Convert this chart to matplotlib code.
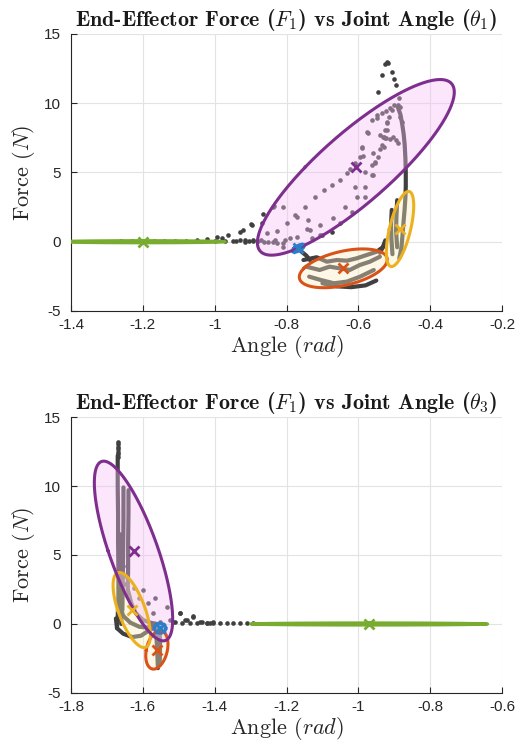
import numpy as np
import matplotlib
matplotlib.use("Agg")
import matplotlib.pyplot as plt

plt.rcParams['mathtext.fontset'] = 'cm'
plt.rcParams['axes.unicode_minus'] = False
plt.rcParams['font.family'] = ['Liberation Sans', 'DejaVu Sans']

# ---------------- data ----------------
comp_colors = ['#77AC30', '#2a7fc8', '#D95319', '#EDB120', '#7E2F8E']
fill_colors = ['#8cc850', '#3d8ad0', '#fbeac4', '#fbeebb', '#f5bef5']
fill_alpha = [0.6, 0.75, 0.38, 0.38, 0.38]

# top panel (theta_1)
top_means = [(-1.20, 0.0), (-0.767, -0.47), (-0.642, -1.92), (-0.484, 0.92), (-0.607, 5.37)]
top_covs = [
    [[0.0132, 0.0], [0.0, 0.0016]],
    [[7e-5, 0.0008], [0.0008, 0.021]],
    [[0.00375, 0.0191], [0.0191, 0.491]],
    [[0.000364, 0.016], [0.016, 1.841]],
    [[0.01878, 0.372], [0.372, 10.05]],
]
top_sparse_x = [-0.521, -0.517, -0.525, -0.534, -0.507, -0.502, -0.496, -0.546, -0.488, -0.483,
                -0.502, -0.511, -0.522, -0.534, -0.548, -0.563, -0.549, -0.572, -0.577, -0.590, -0.586, -0.591, -0.595,
                -0.516, -0.520, -0.525, -0.530, -0.534, -0.541, -0.546, -0.553, -0.563, -0.558, -0.554, -0.563, -0.558,
                -0.532, -0.522, -0.513, -0.504, -0.495, -0.491, -0.540, -0.526, -0.521, -0.521, -0.507, -0.489, -0.484, -0.479, -0.530,
                -0.609, -0.623, -0.632, -0.651, -0.674, -0.697, -0.721, -0.748, -0.776, -0.772, -0.809, -0.837, -0.865, -0.836,
                -0.609, -0.605, -0.581, -0.581, -0.637, -0.670, -0.707, -0.735, -0.772, -0.804, -0.827, -0.799, -0.739, -0.707,
                -0.674, -0.651, -0.618, -0.855, -0.864, -0.837, -0.809, -0.869, -0.892, -0.916, -0.929, -0.897, -0.920, -0.827,
                -0.744, -0.851, -0.832, -0.809, -0.790, -0.581, -0.730, -0.700,
                -1.050, -1.022, -0.994, -0.980, -0.962, -0.948, -0.930, -0.916, -0.900, -0.893, -0.880, -0.870, -0.905,
                -0.940, -0.970, -1.000, -1.080, -1.110, -1.140, -1.170, -1.230, -1.260]
top_sparse_y = [13.0, 12.9, 12.85, 12.04, 12.28, 11.73, 11.32, 10.79, 10.36, 9.75,
                9.87, 9.64, 9.46, 9.27, 9.15, 8.79, 8.91, 7.87, 7.95, 6.79, 6.19, 6.86, 6.14,
                9.03, 8.55, 8.07, 7.54, 6.99, 6.68, 6.10, 5.66, 4.82, 6.38, 5.78, 5.54, 4.82,
                7.54, 7.47, 7.40, 7.54, 7.35, 7.11, 7.71, 7.47, 8.07, 8.67, 9.51, 9.87, 9.03, 8.67, 6.86,
                5.71, 5.23, 4.94, 4.46, 4.10, 3.74, 3.26, 2.53, 1.93, 1.81, 2.53, 2.53, 2.00, 2.60,
                3.98, 3.26, 3.98, 3.26, 2.53, 1.69, 1.21, 0.85, 0.37, 0.13, -0.11, 1.33, 1.57, 0.49,
                0.73, 1.33, 2.17, 0.61, 0.01, 0.01, -0.35, 1.33, 0.13, 0.01, 0.13, 1.21, 0.85, 0.80,
                0.90, 0.00, 0.13, -0.11, 0.25, 5.06, 0.25, 0.45,
                0.14, 0.19, 0.35, 0.26, 0.50, 0.07, 0.73, 0.11, 1.26, 0.07, 0.05, 0.10, 0.05,
                0.02, 0.05, 0.05, 0.08, 0.06, 0.05, 0.05, 0.04, 0.04]

top_paths = [
    ([-0.490, -0.483, -0.478, -0.474, -0.471, -0.469, -0.468, -0.468, -0.469, -0.471, -0.474, -0.477, -0.480, -0.486],
     [9.7, 9.2, 8.5, 7.8, 7.0, 6.0, 5.0, 4.0, 3.2, 2.4, 1.5, 0.5, -0.4, -1.2]),
    ([-0.507, -0.509, -0.508, -0.505], [2.3, 1.2, 0.2, -0.9]),
    ([-0.492, -0.494, -0.495, -0.492], [3.0, 1.8, 0.8, -0.4]),
    ([-0.525, -0.532, -0.540], [0.1, -0.4, -0.8]),
    ([-0.753, -0.716, -0.688, -0.660, -0.632, -0.605, -0.577, -0.549, -0.530],
     [-1.32, -1.12, -1.44, -1.32, -1.37, -1.20, -0.96, -0.72, -0.36]),
    ([-0.745, -0.708, -0.680, -0.652, -0.624, -0.596, -0.568, -0.540],
     [-1.80, -2.04, -1.80, -1.92, -2.04, -1.68, -1.44, -1.08]),
    ([-0.737, -0.705, -0.668, -0.632, -0.595, -0.557], [-2.52, -2.76, -3.00, -2.88, -2.52, -2.04]),
    ([-0.700, -0.660, -0.620, -0.580, -0.550], [-3.00, -3.22, -3.28, -3.15, -2.80]),
    ([-0.775, -0.767, -0.758, -0.745, -0.735], [-0.35, -0.48, -0.72, -1.00, -1.32]),
]

# bottom panel (theta_3)
bot_means = [(-0.97, 0.0), (-1.552, -0.31), (-1.561, -1.88), (-1.631, 1.01), (-1.626, 5.29)]
bot_covs = [
    [[0.0272, 0.0], [0.0, 0.0016]],
    [[6.4e-5, 0.0], [0.0, 0.0324]],
    [[0.00024, 0.0032], [0.0032, 0.483]],
    [[0.000675, -0.02325], [-0.02325, 1.85]],
    [[0.002975, -0.135], [-0.135, 10.6]],
]
bot_sparse_x = [-1.670, -1.670, -1.670, -1.670, -1.670, -1.670, -1.670,
                -1.599, -1.566, -1.534, -1.571, -1.626, -1.496, -1.524, -1.552, -1.510, -1.483,
                -1.459, -1.469, -1.441, -1.422, -1.404, -1.515, -1.497, -1.492, -1.478, -1.460,
                -1.450, -1.436, -1.422, -1.413, -1.404, -1.385, -1.367, -1.348, -1.329, -1.311, -1.292,
                -1.647, -1.650, -1.660, -1.645, -1.612, -1.585]
bot_sparse_y = [13.21, 13.04, 12.85, 12.66, 12.49, 12.32, 12.13,
                2.46, 1.86, 1.26, 0.77, 2.58, 0.82, 0.29, 0.17, 0.17, 0.29,
                0.53, 0.05, 0.17, 0.05, 0.17, 0.17, 0.78, 0.05, 0.29, 0.58,
                0.08, 0.12, 0.10, 0.08, 0.05, 0.05, 0.05, 0.08, 0.05, 0.08, 0.08,
                3.5, 2.9, 2.2, 4.2, 1.9, 1.5]
bot_paths = [
    ([-1.670, -1.670, -1.669, -1.669, -1.668, -1.668, -1.670, -1.672], [12.2, 10.0, 8.0, 6.0, 4.0, 2.0, 0.5, -0.3]),
    ([-1.640, -1.640, -1.641, -1.641, -1.642], [9.7, 8.0, 6.0, 4.0, 2.5]),
    ([-1.654, -1.654, -1.655, -1.656, -1.657], [9.9, 7.5, 5.0, 3.0, 1.0]),
    ([-1.662, -1.662, -1.661, -1.660], [6.5, 4.0, 2.0, 0.0]),
    ([-1.675, -1.672, -1.655, -1.630, -1.605, -1.585, -1.565], [0.4, -0.3, -0.7, -0.95, -0.85, -0.5, -0.2]),
    ([-1.665, -1.655, -1.635, -1.610, -1.590, -1.570], [1.5, 0.6, 0.1, -0.2, -0.25, -0.1]),
    ([-1.642, -1.632, -1.620, -1.600, -1.580, -1.560], [2.5, 1.5, 0.8, 0.3, 0.1, 0.0]),
    ([-1.565, -1.562, -1.560, -1.558], [0.0, -1.0, -2.0, -3.2]),
    ([-1.553, -1.552, -1.553], [-0.3, -1.5, -2.8]),
]

top_xticks = [-1.4, -1.2, -1.0, -0.8, -0.6, -0.4, -0.2]
bot_xticks = [-1.8, -1.6, -1.4, -1.2, -1.0, -0.8, -0.6]
yticks = [-5, 0, 5, 10, 15]
titles = [r'End-Effector Force ($F_1$) vs Joint Angle ($\theta_1$)',
          r'End-Effector Force ($F_1$) vs Joint Angle ($\theta_3$)']

# ---------------- drawing ----------------
fig = plt.figure(figsize=(5.21, 7.53), dpi=100)
ax_top = fig.add_axes([0.1363, 0.5870, 0.8273, 0.3679])
ax_bot = fig.add_axes([0.1363, 0.0797, 0.8273, 0.3665])

pt_color = '#404040'


def ellipse_pts(mean, cov, k=2.0, n=300):
    vals, vecs = np.linalg.eigh(np.array(cov))
    t = np.linspace(0, 2 * np.pi, n)
    circ = np.vstack([np.cos(t), np.sin(t)])
    pts = vecs @ (np.sqrt(vals)[:, None] * circ) * k
    return mean[0] + pts[0], mean[1] + pts[1]


def panel(ax, sx, sy, paths, means, covs, xticks, title):
    ax.scatter(sx, sy, s=11, color=pt_color, linewidths=0, zorder=2)
    for px, py in paths:
        ax.plot(px, py, color=pt_color, lw=3.0, solid_capstyle='round', solid_joinstyle='round', zorder=2)
    for i in range(len(means)):
        ex, ey = ellipse_pts(means[i], covs[i])
        ax.fill(ex, ey, color=fill_colors[i], alpha=fill_alpha[i], lw=0, zorder=3)
        ax.plot(ex, ey, color=comp_colors[i], lw=2.2, zorder=4)
        ax.plot([means[i][0]], [means[i][1]], marker='x', ms=7, mew=2, color=comp_colors[i], zorder=5)
    ax.set_xlim(xticks[0], xticks[-1])
    ax.set_ylim(-5, 15)
    ax.set_xticks(xticks)
    ax.set_xticklabels([f'{v:g}' for v in xticks])
    ax.set_yticks(yticks)
    ax.set_yticklabels([f'{v:g}' for v in yticks])
    ax.grid(True, color='#e3e3e3', lw=0.8, zorder=0)
    ax.set_axisbelow(True)
    for s in ['top', 'right']:
        ax.spines[s].set_visible(False)
    for s in ['left', 'bottom']:
        ax.spines[s].set_color('#262626')
        ax.spines[s].set_linewidth(0.8)
    ax.tick_params(direction='in', length=4, width=0.8, color='#262626', labelsize=11,
                   labelcolor='#262626')
    ax.tick_params(axis='x', pad=5)
    ax.tick_params(axis='y', pad=7)
    ax.set_title(title, fontfamily='cmb10', fontsize=15.8, pad=6, color='#1a1a1a')
    ax.set_xlabel(r'Angle ($rad$)', fontfamily='cmr10', fontsize=16, labelpad=1, color='#262626')
    ax.set_ylabel(r'Force ($N$)', fontfamily='cmr10', fontsize=16, labelpad=5, color='#262626')


panel(ax_top, top_sparse_x, top_sparse_y, top_paths, top_means, top_covs, top_xticks, titles[0])
panel(ax_bot, bot_sparse_x, bot_sparse_y, bot_paths, bot_means, bot_covs, bot_xticks, titles[1])

fig.savefig('out.png', dpi=100)
